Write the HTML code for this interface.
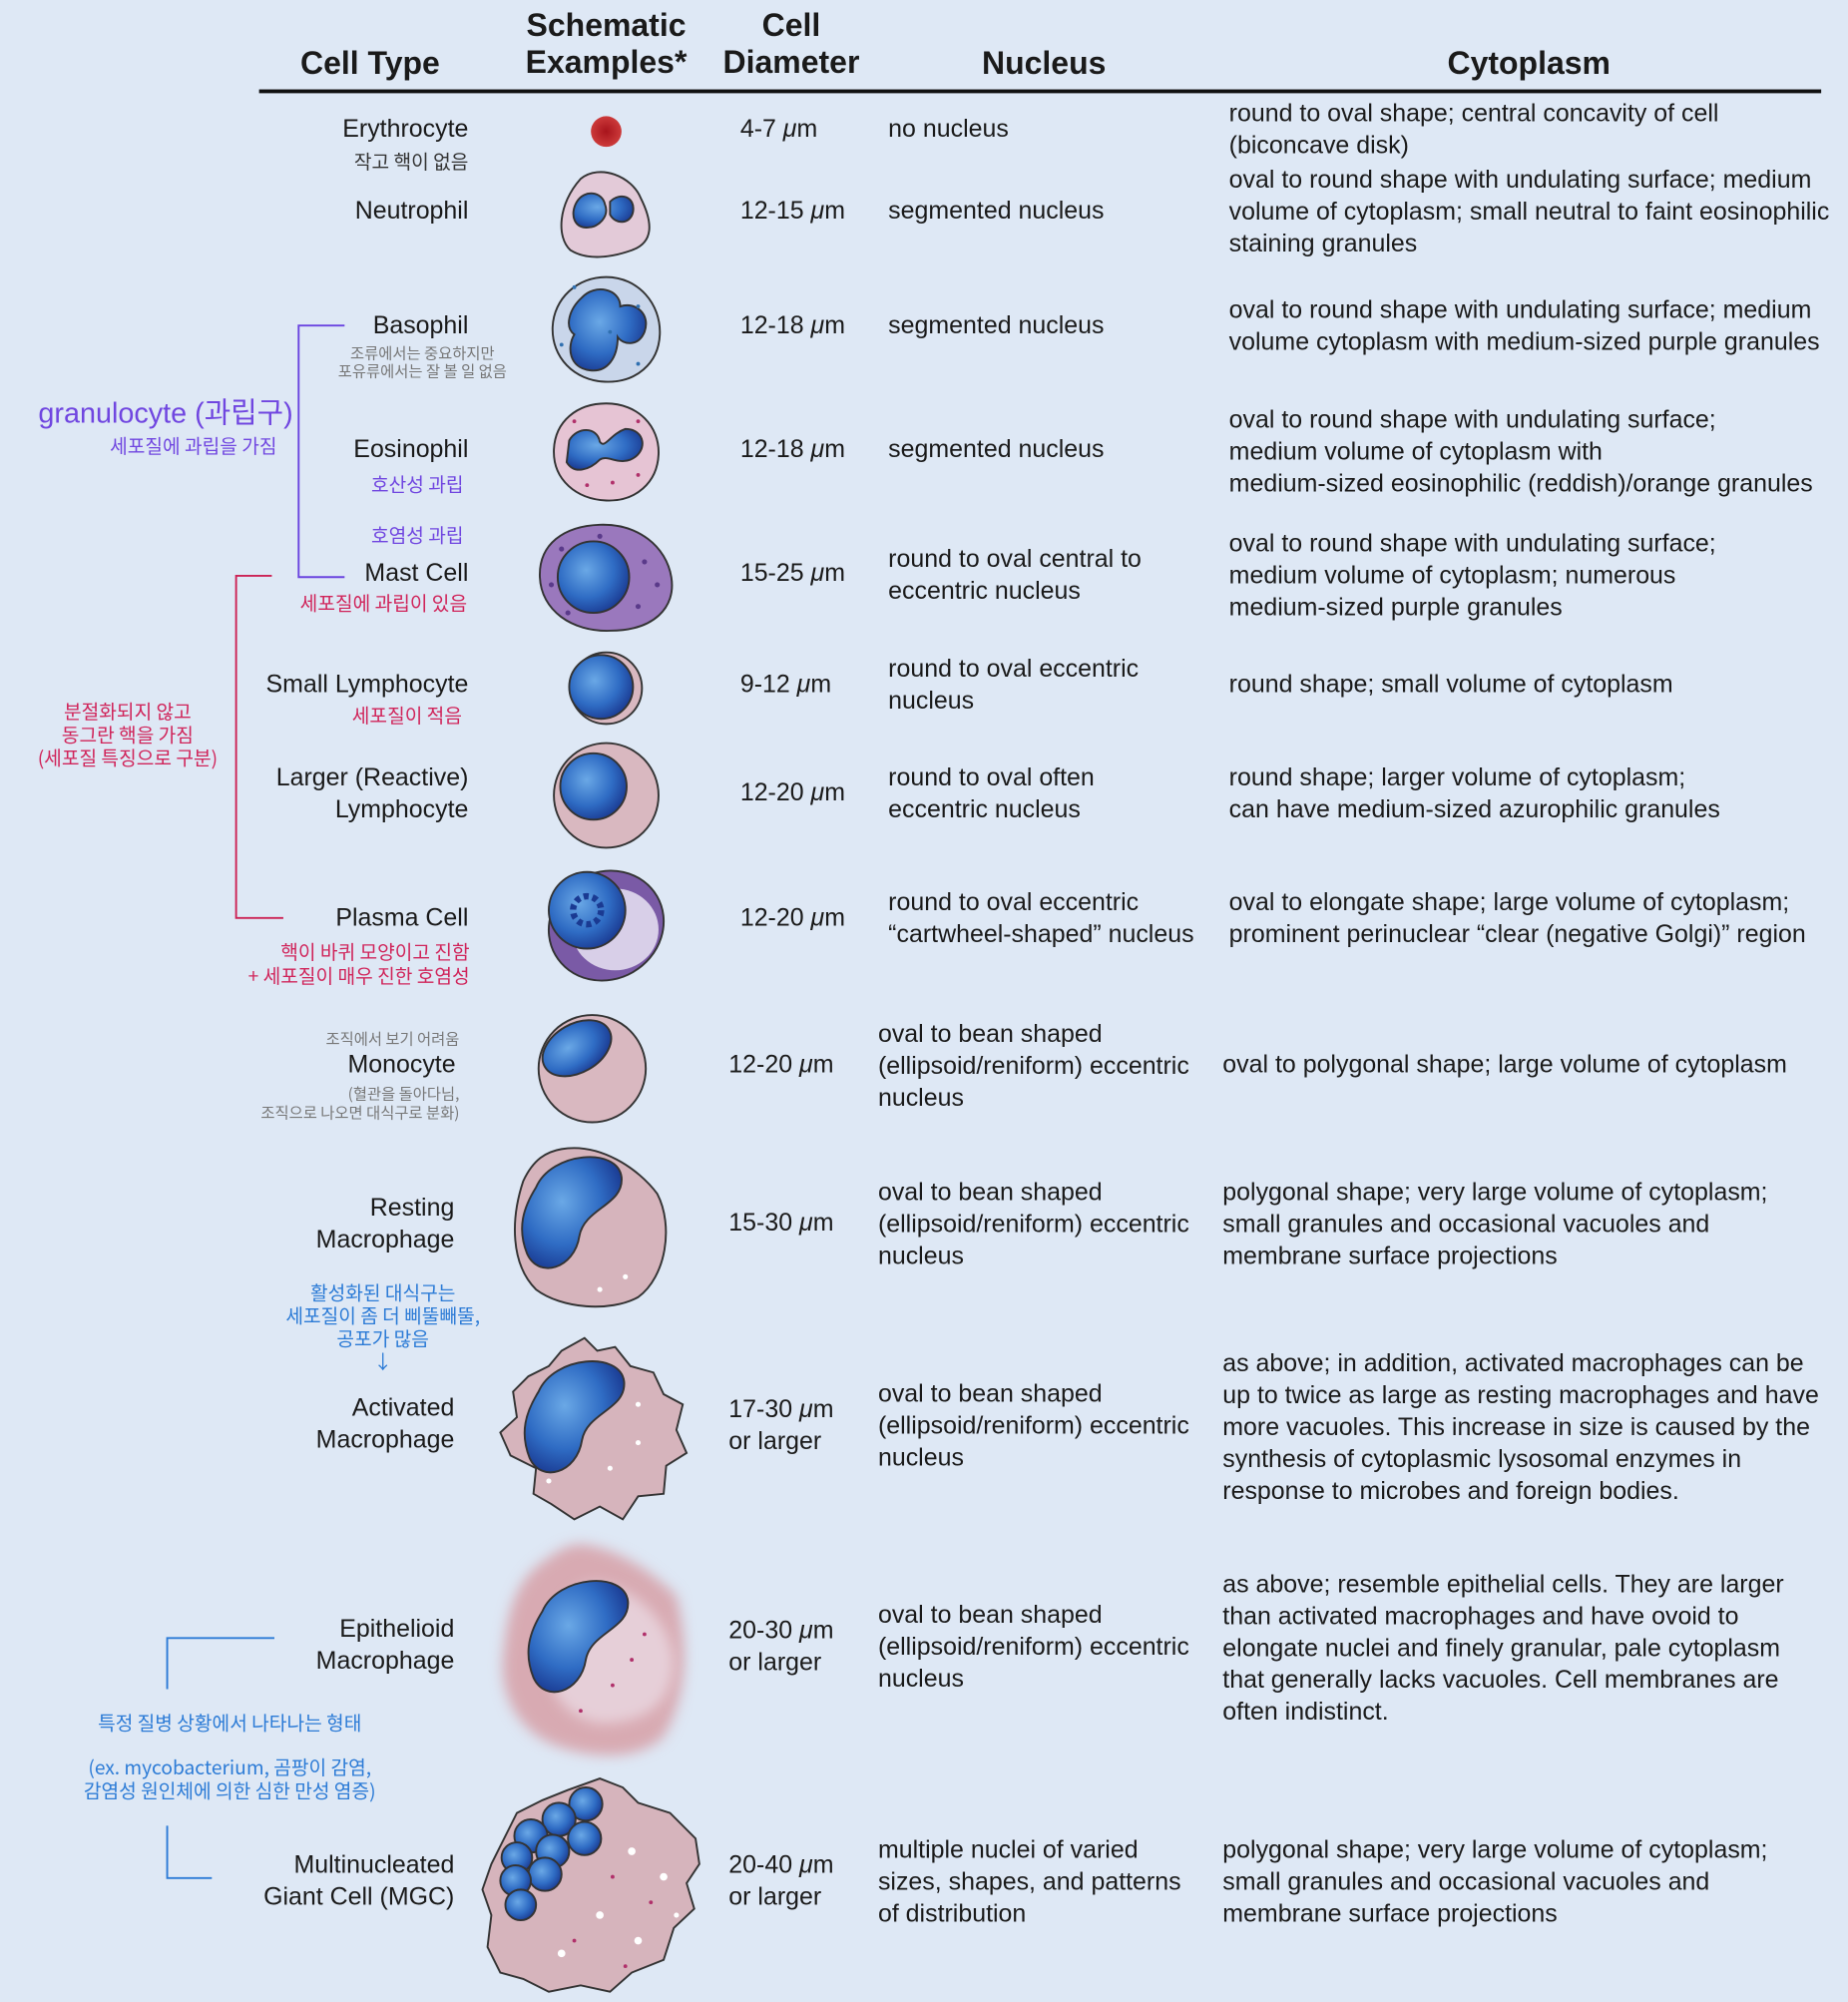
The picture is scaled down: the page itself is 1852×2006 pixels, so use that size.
<!DOCTYPE html>
<html><head><meta charset="utf-8">
<style>
html,body{margin:0;padding:0;background:#dee8f5;}
body{width:1852px;height:2006px;overflow:hidden;}
#w{position:absolute;left:0;top:0;width:1448px;height:1568px;transform:scale(1.279,1.2793);transform-origin:0 0;font-family:"Liberation Sans","Noto Sans CJK KR",sans-serif;color:#1a1a1a;}
.t{position:absolute;font-size:19.5px;line-height:25px;white-space:nowrap;letter-spacing:0px;}
.r{text-align:right;}
.h{position:absolute;font-size:25px;font-weight:bold;line-height:29px;text-align:center;white-space:nowrap;letter-spacing:0px;transform:translateX(-50%);}
.k{position:absolute;white-space:nowrap;font-family:"Noto Sans CJK KR","Liberation Sans",sans-serif;letter-spacing:0px;}
.pu{color:#7046e0;}.cr{color:#d0245a;}.gy{color:#777;}.bl{color:#2c7bd6;}
i{font-style:italic;}
</style></head><body><div id="w">

<div class="h" style="left:290px;top:36px">Cell Type</div>
<div class="h" style="left:475px;top:6px">Schematic<br>Examples*</div>
<div class="h" style="left:620px;top:6px">Cell<br>Diameter</div>
<div class="h" style="left:818px;top:36px">Nucleus</div>
<div class="h" style="left:1198px;top:36px">Cytoplasm</div>
<div style="position:absolute;left:203px;top:70px;width:1224px;height:3px;background:#111"></div>

<svg style="position:absolute;left:0;top:0" width="1448" height="1568">
<polyline points="270,255 234,255 234,452 270,452" fill="none" stroke="#6a44e0" stroke-width="1.5"/>
<polyline points="213,451 185,451 185,719 222,719" fill="none" stroke="#cc2255" stroke-width="1.5"/>
<polyline points="215,1283 131,1283 131,1323" fill="none" stroke="#2c7bd6" stroke-width="1.5"/>
<polyline points="131,1430 131,1471 166,1471" fill="none" stroke="#2c7bd6" stroke-width="1.5"/>
</svg>

<div class="k pu" style="left:30px;top:306px;font-size:22.5px;font-family:'Liberation Sans','Noto Sans CJK KR',sans-serif">granulocyte (과립구)</div>
<div class="k pu" style="right:1231px;top:339px;font-size:15px">세포질에 과립을 가짐</div>
<div class="k cr" style="left:100px;top:549px;font-size:15px;line-height:18px;text-align:center;transform:translateX(-50%)">분절화되지 않고<br>동그란 핵을 가짐<br>(세포질 특징으로 구분)</div>
<div class="k bl" style="left:300px;top:1004px;font-size:15px;line-height:18px;text-align:center;transform:translateX(-50%)">활성화된 대식구는<br>세포질이 좀 더 삐뚤빼뚤,<br>공포가 많음<br>↓</div>
<div class="k bl" style="left:180px;top:1339px;font-size:15px;transform:translateX(-50%)">특정 질병 상황에서 나타나는 형태</div>
<div class="k bl" style="left:180px;top:1376px;font-size:15px;line-height:18px;text-align:center;transform:translateX(-50%)">(ex. mycobacterium, 곰팡이 감염,<br>감염성 원인체에 의한 심한 만성 염증)</div>

<div class="t r" style="right:1081px;top:89px">Erythrocyte</div>
<div class="k" style="right:1081px;top:116px;font-size:15px;color:#333">작고 핵이 없음</div>
<div class="t r" style="right:1081px;top:153px">Neutrophil</div>
<div class="t r" style="right:1081px;top:243px">Basophil</div>
<div class="k gy" style="left:331px;top:270px;font-size:12px;line-height:14px;text-align:center;transform:translateX(-50%)">조류에서는 중요하지만<br>포유류에서는 잘 볼 일 없음</div>
<div class="t r" style="right:1081px;top:340px">Eosinophil</div>
<div class="k pu" style="left:327px;top:369px;font-size:15px;transform:translateX(-50%)">호산성 과립</div>
<div class="k pu" style="left:327px;top:409px;font-size:15px;transform:translateX(-50%)">호염성 과립</div>
<div class="t r" style="right:1081px;top:437px">Mast Cell</div>
<div class="k cr" style="right:1082px;top:462px;font-size:15px">세포질에 과립이 있음</div>
<div class="t r" style="right:1081px;top:524px">Small Lymphocyte</div>
<div class="k cr" style="right:1086px;top:550px;font-size:15px">세포질이 적음</div>
<div class="t r" style="right:1081px;top:597px">Larger (Reactive)<br>Lymphocyte</div>
<div class="t r" style="right:1081px;top:707px">Plasma Cell</div>
<div class="k cr" style="right:1080px;top:736px;font-size:15px;line-height:19px;text-align:right">핵이 바퀴 모양이고 진함<br>+ 세포질이 매우 진한 호염성</div>
<div class="k gy" style="right:1088px;top:805px;font-size:12px">조직에서 보기 어려움</div>
<div class="t r" style="right:1091px;top:822px">Monocyte</div>
<div class="k gy" style="right:1088px;top:849px;font-size:12px;line-height:15px;text-align:right">(혈관을 돌아다님,<br>조직으로 나오면 대식구로 분화)</div>
<div class="t r" style="right:1092px;top:934px">Resting<br>Macrophage</div>
<div class="t r" style="right:1092px;top:1091px">Activated<br>Macrophage</div>
<div class="t r" style="right:1092px;top:1264px">Epithelioid<br>Macrophage</div>
<div class="t r" style="right:1092px;top:1449px">Multinucleated<br>Giant Cell (MGC)</div>

<div class="t" style="left:580px;top:89px">4-7 <i>μ</i>m</div>
<div class="t" style="left:580px;top:153px">12-15 <i>μ</i>m</div>
<div class="t" style="left:580px;top:243px">12-18 <i>μ</i>m</div>
<div class="t" style="left:580px;top:340px">12-18 <i>μ</i>m</div>
<div class="t" style="left:580px;top:437px">15-25 <i>μ</i>m</div>
<div class="t" style="left:580px;top:524px">9-12 <i>μ</i>m</div>
<div class="t" style="left:580px;top:609px">12-20 <i>μ</i>m</div>
<div class="t" style="left:580px;top:707px">12-20 <i>μ</i>m</div>
<div class="t" style="left:571px;top:822px">12-20 <i>μ</i>m</div>
<div class="t" style="left:571px;top:946px">15-30 <i>μ</i>m</div>
<div class="t" style="left:571px;top:1092px">17-30 <i>μ</i>m<br>or larger</div>
<div class="t" style="left:571px;top:1265px">20-30 <i>μ</i>m<br>or larger</div>
<div class="t" style="left:571px;top:1449px">20-40 <i>μ</i>m<br>or larger</div>

<div class="t" style="left:696px;top:89px">no nucleus</div>
<div class="t" style="left:696px;top:153px">segmented nucleus</div>
<div class="t" style="left:696px;top:243px">segmented nucleus</div>
<div class="t" style="left:696px;top:340px">segmented nucleus</div>
<div class="t" style="left:696px;top:426px">round to oval central to<br>eccentric nucleus</div>
<div class="t" style="left:696px;top:512px">round to oval eccentric<br>nucleus</div>
<div class="t" style="left:696px;top:597px">round to oval often<br>eccentric nucleus</div>
<div class="t" style="left:696px;top:695px">round to oval eccentric<br>“cartwheel-shaped” nucleus</div>
<div class="t" style="left:688px;top:798px">oval to bean shaped<br>(ellipsoid/reniform) eccentric<br>nucleus</div>
<div class="t" style="left:688px;top:922px">oval to bean shaped<br>(ellipsoid/reniform) eccentric<br>nucleus</div>
<div class="t" style="left:688px;top:1080px">oval to bean shaped<br>(ellipsoid/reniform) eccentric<br>nucleus</div>
<div class="t" style="left:688px;top:1253px">oval to bean shaped<br>(ellipsoid/reniform) eccentric<br>nucleus</div>
<div class="t" style="left:688px;top:1437px">multiple nuclei of varied<br>sizes, shapes, and patterns<br>of distribution</div>

<div class="t" style="left:963px;top:77px">round to oval shape; central concavity of cell<br>(biconcave disk)</div>
<div class="t" style="left:963px;top:129px">oval to round shape with undulating surface; medium<br>volume of cytoplasm; small neutral to faint eosinophilic<br>staining granules</div>
<div class="t" style="left:963px;top:231px">oval to round shape with undulating surface; medium<br>volume cytoplasm with medium-sized purple granules</div>
<div class="t" style="left:963px;top:317px">oval to round shape with undulating surface;<br>medium volume of cytoplasm with<br>medium-sized eosinophilic (reddish)/orange granules</div>
<div class="t" style="left:963px;top:414px">oval to round shape with undulating surface;<br>medium volume of cytoplasm; numerous<br>medium-sized purple granules</div>
<div class="t" style="left:963px;top:524px">round shape; small volume of cytoplasm</div>
<div class="t" style="left:963px;top:597px">round shape; larger volume of cytoplasm;<br>can have medium-sized azurophilic granules</div>
<div class="t" style="left:963px;top:695px">oval to elongate shape; large volume of cytoplasm;<br>prominent perinuclear “clear (negative Golgi)” region</div>
<div class="t" style="left:958px;top:822px">oval to polygonal shape; large volume of cytoplasm</div>
<div class="t" style="left:958px;top:922px">polygonal shape; very large volume of cytoplasm;<br>small granules and occasional vacuoles and<br>membrane surface projections</div>
<div class="t" style="left:958px;top:1056px">as above; in addition, activated macrophages can be<br>up to twice as large as resting macrophages and have<br>more vacuoles. This increase in size is caused by the<br>synthesis of cytoplasmic lysosomal enzymes in<br>response to microbes and foreign bodies.</div>
<div class="t" style="left:958px;top:1229px">as above; resemble epithelial cells. They are larger<br>than activated macrophages and have ovoid to<br>elongate nuclei and finely granular, pale cytoplasm<br>that generally lacks vacuoles. Cell membranes are<br>often indistinct.</div>
<div class="t" style="left:958px;top:1437px">polygonal shape; very large volume of cytoplasm;<br>small granules and occasional vacuoles and<br>membrane surface projections</div>

<svg style="position:absolute;left:0;top:0" width="1448" height="1568">
<defs>
<radialGradient id="nu" cx="0.4" cy="0.4" r="0.65"><stop offset="0" stop-color="#6aa8e6"/><stop offset="0.6" stop-color="#2f6cc4"/><stop offset="1" stop-color="#1a3a92"/></radialGradient>
<radialGradient id="rbc" cx="0.5" cy="0.5" r="0.5"><stop offset="0" stop-color="#a8141c"/><stop offset="1" stop-color="#cc3a3a"/></radialGradient>
<filter id="bl"><feGaussianBlur stdDeviation="5"/></filter>
</defs>
<g stroke="#333" stroke-width="1.5">
<circle cx="475" cy="103" r="12" fill="url(#rbc)" stroke="none"/>
<path d="M455 140 C470 128 495 138 502 155 C512 175 512 190 495 196 C478 202 460 204 447 196 C436 186 437 160 455 140Z" fill="#e3cad8"/>
<path d="M452 158 C458 148 472 150 474 160 C478 170 468 178 462 178 C450 180 446 168 452 158Z M478 158 C486 150 498 154 496 166 C494 176 482 176 478 168Z" fill="url(#nu)"/>
<path d="M475 217 C500 217 518 238 517 262 C516 285 498 300 474 299 C450 298 432 280 433 256 C434 234 452 217 475 217Z" fill="#c9d6ea"/>
<path d="M456 233 C466 222 486 226 486 240 C498 236 510 246 505 260 C500 272 488 270 484 264 C484 280 476 292 462 290 C446 288 444 272 450 262 C442 256 446 242 456 233Z" fill="url(#nu)"/>
<path d="M475 316 C500 316 517 334 516 356 C515 378 498 393 475 392 C452 391 433 376 434 352 C435 330 452 316 475 316Z" fill="#e6c4d4"/>
<path d="M446 345 C452 334 468 334 470 346 C474 352 478 340 490 336 C506 336 508 354 494 360 C484 364 476 356 470 360 C462 368 450 372 444 362Z" fill="url(#nu)"/>
<path d="M470 411 C500 410 522 428 526 452 C530 476 512 494 478 494 C448 495 424 478 423 452 C422 426 442 412 470 411Z" fill="#9a78bd"/>
<circle cx="465" cy="452" r="28" fill="url(#nu)"/>
<circle cx="475" cy="539" r="28" fill="#d9b8c0"/>
<circle cx="471" cy="538" r="25" fill="url(#nu)"/>
<circle cx="475" cy="623" r="41" fill="#d9b8c0"/>
<circle cx="465" cy="616" r="26" fill="url(#nu)"/>
<ellipse cx="475" cy="725" rx="46" ry="42" transform="rotate(-30 475 725)" fill="#7a5aa6"/>
<ellipse cx="482" cy="728" rx="34" ry="32" fill="#d8cfe8" stroke="none"/>
<circle cx="460" cy="713" r="30" fill="url(#nu)"/>
<circle cx="460" cy="713" r="11" fill="none" stroke="#1a3a92" stroke-width="5" stroke-dasharray="4 3"/>
<circle cx="464" cy="837" r="42" fill="#d9b8c0"/>
<ellipse cx="452" cy="821" rx="29" ry="19" transform="rotate(-30 452 821)" fill="url(#nu)"/>
<path d="M440 900 C470 895 500 915 515 935 C528 960 522 1000 500 1016 C478 1028 440 1025 420 1010 C400 990 400 955 410 925 C418 908 428 902 440 900Z" fill="#d6b4bc"/>
<path id="kid" d="M420 930 C432 902 484 898 487 922 C489 944 458 946 454 968 C450 994 422 1002 413 982 C405 962 410 946 420 930Z" fill="url(#nu)"/>
<path d="M458 1048 L468 1058 L482 1055 L494 1070 L512 1075 L520 1092 L535 1100 L530 1120 L538 1138 L522 1148 L520 1170 L500 1172 L488 1190 L470 1180 L450 1190 L432 1178 L418 1170 L420 1150 L400 1140 L392 1122 L405 1110 L402 1090 L414 1078 L430 1070 L440 1058Z" fill="#d6b4bc"/>
<use href="#kid" transform="translate(2 160)"/>
<path d="M460 1210 C490 1215 515 1235 530 1250 C540 1290 538 1330 520 1360 C500 1380 460 1378 430 1365 C400 1350 390 1320 395 1290 C398 1260 405 1235 430 1220 C440 1212 450 1208 460 1210Z" fill="#d8aab2" stroke="none" filter="url(#bl)"/>
<path d="M470 1240 C500 1245 525 1270 528 1300 C528 1335 505 1350 470 1350 C440 1345 425 1320 430 1290 C433 1260 450 1238 470 1240Z" fill="#e6cfd8" stroke="none" filter="url(#bl)"/>
<use href="#kid" transform="translate(5 332)"/>
<path d="M470 1393 L488 1400 L500 1412 L525 1420 L545 1440 L548 1460 L538 1475 L544 1495 L528 1510 L520 1535 L495 1545 L478 1560 L455 1555 L430 1560 L410 1550 L392 1545 L382 1525 L385 1500 L378 1480 L385 1460 L395 1440 L405 1420 L425 1410 L445 1402Z" fill="#d6b4bc"/>
<g fill="url(#nu)">
<circle cx="459" cy="1413" r="13"/><circle cx="438" cy="1425" r="13"/><circle cx="458" cy="1440" r="13"/>
<circle cx="416" cy="1438" r="13"/><circle cx="433" cy="1450" r="13"/><circle cx="405" cy="1455" r="12"/>
<circle cx="427" cy="1468" r="13"/><circle cx="404" cy="1473" r="12"/><circle cx="408" cy="1492" r="12"/>
</g>
</g>
<g fill="#fff">
<circle cx="490" cy="1000" r="2"/><circle cx="470" cy="1010" r="2"/><circle cx="500" cy="1100" r="2"/><circle cx="478" cy="1150" r="2"/><circle cx="500" cy="1130" r="2"/><circle cx="430" cy="1160" r="2"/>
<circle cx="495" cy="1450" r="3"/><circle cx="520" cy="1470" r="3"/><circle cx="470" cy="1500" r="3"/><circle cx="500" cy="1520" r="3"/><circle cx="440" cy="1530" r="3"/><circle cx="530" cy="1500" r="2"/>
</g>
<g fill="#b0306a">
<circle cx="460" cy="380" r="1.5"/><circle cx="480" cy="378" r="1.5"/><circle cx="500" cy="372" r="1.5"/><circle cx="450" cy="330" r="1.5"/><circle cx="500" cy="330" r="1.5"/>
<circle cx="495" cy="1300" r="1.5"/><circle cx="480" cy="1320" r="1.5"/><circle cx="505" cy="1280" r="1.5"/><circle cx="455" cy="1340" r="1.5"/>
<circle cx="480" cy="1470" r="1.5"/><circle cx="510" cy="1490" r="1.5"/><circle cx="450" cy="1520" r="1.5"/><circle cx="490" cy="1540" r="1.5"/>
</g>
<g fill="#5a3a8a">
<circle cx="440" cy="430" r="2"/><circle cx="505" cy="440" r="2"/><circle cx="500" cy="475" r="2"/><circle cx="445" cy="480" r="2"/><circle cx="470" cy="420" r="2"/><circle cx="515" cy="458" r="2"/><circle cx="432" cy="458" r="2"/>
</g>
<g fill="#3070b0">
<circle cx="450" cy="225" r="1.5"/><circle cx="500" cy="240" r="1.5"/><circle cx="440" cy="270" r="1.5"/><circle cx="500" cy="285" r="1.5"/><circle cx="478" cy="260" r="1.5"/>
</g>
</svg>
</div></body></html>
